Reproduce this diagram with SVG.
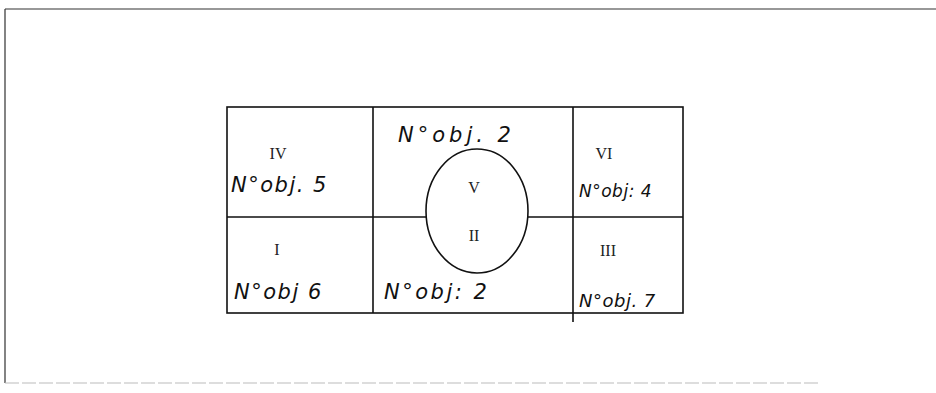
<svg xmlns="http://www.w3.org/2000/svg" width="936" height="393" viewBox="0 0 936 393">
<style>
.frame{fill:none;stroke:#333;stroke-width:1.2}
.ln{fill:none;stroke:#111;stroke-width:1.6}
.rn{font-family:"Liberation Serif",serif;font-size:16px;fill:#222;text-anchor:middle}
.hw{font-family:"DejaVu Sans","Liberation Sans",sans-serif;font-size:21px;fill:#111;font-style:italic;letter-spacing:1.5px}
</style>
<rect width="936" height="393" fill="#fff"/>
<g id="frame">
<path class="frame" d="M5,9 H936 M5,9 V383"/>
<path d="M5,383 H820" fill="none" stroke="#bbb" stroke-width="1" stroke-dasharray="14,3"/>
</g>
<g id="grid">
<rect class="ln" x="227" y="107" width="456" height="206"/>
<path class="ln" d="M373,107 V313 M573,107 V322 M227,217 H683"/>
</g>
<g id="circle">
<ellipse cx="477" cy="211" rx="51" ry="62" fill="#fff" stroke="#111" stroke-width="1.6"/>
</g>
<g id="region-IV">
<text class="rn" x="278" y="159">IV</text>
<text class="hw" x="231" y="192">N°obj. 5</text>
</g>
<g id="region-I">
<text class="rn" x="277" y="255">I</text>
<text class="hw" x="234" y="299">N°obj 6</text>
</g>
<g id="region-V">
<text class="hw" x="398" y="142" style="letter-spacing:4px">N°obj. 2</text>
<text class="rn" x="474" y="193">V</text>
</g>
<g id="region-II">
<text class="rn" x="474" y="241">II</text>
<text class="hw" x="384" y="299" style="letter-spacing:2.5px">N°obj: 2</text>
</g>
<g id="region-VI">
<text class="rn" x="604" y="159">VI</text>
<text class="hw" x="579" y="197" style="font-size:17px;letter-spacing:0.5px">N°obj: 4</text>
</g>
<g id="region-III">
<text class="rn" x="608" y="256">III</text>
<text class="hw" x="579" y="307" style="font-size:18px;letter-spacing:0.5px">N°obj. 7</text>
</g>
</svg>
